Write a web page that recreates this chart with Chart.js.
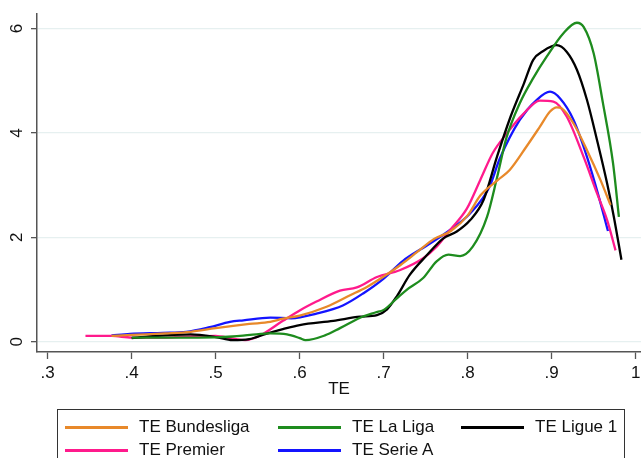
<!DOCTYPE html>
<html>
<head>
<meta charset="utf-8">
<script src="https://cdn.jsdelivr.net/npm/chart.js@4"></script>
<style>
  html, body { margin: 0; padding: 0; background: #fff; }
  #wrap { position: relative; width: 641px; height: 458px; overflow: hidden; }
  #legend {
    position: absolute; left: 57px; top: 409px; width: 568px; height: 60px;
    border: 1px solid #333; box-sizing: border-box;
    font-family: Arial, "Liberation Sans", sans-serif; font-size: 17px; color: #111;
  }
  .item { position: absolute; display: flex; align-items: center; height: 22px; }
  .swatch { width: 63px; height: 3px; margin-right: 11px; }
</style>
</head>
<body>
<div id="wrap">
  <canvas id="chart" width="641" height="458"></canvas>
  <div id="legend"></div>
</div>
<script>
// kernel density estimates of TE by league
const seriesNames = ['TE Bundesliga', 'TE La Liga', 'TE Ligue 1', 'TE Premier', 'TE Serie A'];
const seriesColors = ['#e8892a', '#1e8c1e', '#000000', '#ff1a8c', '#1414ff'];

const bundesligaX = [0.376, 0.40, 0.44, 0.47, 0.50, 0.54, 0.565, 0.58, 0.60, 0.632, 0.66, 0.68, 0.70, 0.72, 0.74, 0.76, 0.78, 0.80, 0.815, 0.836, 0.85, 0.87, 0.886, 0.898, 0.906, 0.912, 0.926, 0.942, 0.958, 0.970];
const bundesligaY = [0.11, 0.13, 0.16, 0.19, 0.26, 0.34, 0.38, 0.44, 0.50, 0.67, 0.89, 1.05, 1.25, 1.47, 1.72, 1.97, 2.12, 2.42, 2.80, 3.10, 3.29, 3.74, 4.12, 4.41, 4.49, 4.47, 4.18, 3.67, 3.10, 2.62];

const laLigaX = [0.40, 0.45, 0.50, 0.52, 0.541, 0.565, 0.585, 0.60, 0.607, 0.63, 0.648, 0.672, 0.69, 0.70, 0.715, 0.727, 0.747, 0.763, 0.777, 0.791, 0.806, 0.823, 0.835, 0.846, 0.862, 0.878, 0.894, 0.914, 0.930, 0.938, 0.95, 0.961, 0.973, 0.980];
const laLigaY = [0.08, 0.08, 0.085, 0.10, 0.13, 0.16, 0.14, 0.07, 0.03, 0.12, 0.26, 0.46, 0.56, 0.61, 0.82, 0.99, 1.22, 1.54, 1.67, 1.64, 1.82, 2.39, 3.15, 3.90, 4.57, 5.05, 5.46, 5.91, 6.11, 6.03, 5.52, 4.57, 3.42, 2.39];

const ligue1X = [0.40, 0.42, 0.45, 0.47, 0.50, 0.52, 0.54, 0.56, 0.58, 0.60, 0.64, 0.672, 0.692, 0.704, 0.716, 0.731, 0.751, 0.771, 0.787, 0.803, 0.819, 0.835, 0.851, 0.867, 0.878, 0.890, 0.906, 0.918, 0.930, 0.942, 0.954, 0.966, 0.974, 0.983];
const ligue1Y = [0.07, 0.10, 0.13, 0.14, 0.09, 0.03, 0.05, 0.15, 0.24, 0.32, 0.40, 0.48, 0.51, 0.62, 0.88, 1.28, 1.65, 1.98, 2.11, 2.33, 2.72, 3.55, 4.31, 4.95, 5.40, 5.57, 5.68, 5.55, 5.21, 4.63, 3.86, 3.03, 2.39, 1.57];

const premierX = [0.345, 0.376, 0.40, 0.44, 0.47, 0.50, 0.52, 0.535, 0.553, 0.58, 0.60, 0.62, 0.648, 0.668, 0.692, 0.719, 0.747, 0.763, 0.779, 0.799, 0.815, 0.83, 0.846, 0.866, 0.886, 0.902, 0.918, 0.938, 0.954, 0.966, 0.976];
const premierY = [0.11, 0.11, 0.08, 0.08, 0.10, 0.11, 0.06, 0.03, 0.12, 0.40, 0.60, 0.77, 0.98, 1.04, 1.24, 1.37, 1.60, 1.82, 2.14, 2.55, 3.10, 3.62, 3.98, 4.36, 4.62, 4.60, 4.31, 3.54, 2.84, 2.33, 1.75];

const serieAX = [0.376, 0.398, 0.437, 0.465, 0.493, 0.517, 0.533, 0.565, 0.59, 0.62, 0.652, 0.676, 0.70, 0.723, 0.751, 0.779, 0.803, 0.826, 0.838, 0.862, 0.882, 0.898, 0.910, 0.926, 0.942, 0.956, 0.967];
const serieAY = [0.12, 0.15, 0.17, 0.19, 0.28, 0.38, 0.41, 0.46, 0.45, 0.54, 0.70, 0.93, 1.21, 1.55, 1.84, 2.14, 2.46, 2.97, 3.50, 4.25, 4.63, 4.79, 4.66, 4.25, 3.54, 2.78, 2.12];

const xTicks = [0.3, 0.4, 0.5, 0.6, 0.7, 0.8, 0.9, 1];
const yTicks = [0, 2, 4, 6];

const seriesX = [bundesligaX, laLigaX, ligue1X, premierX, serieAX];
const seriesY = [bundesligaY, laLigaY, ligue1Y, premierY, serieAY];

const font = "Arial, 'Liberation Sans', sans-serif";

const datasets = seriesNames.map((name, i) => ({
    label: name,
    data: seriesX[i].map((x, j) => ({x: x, y: seriesY[i][j]})),
    borderColor: seriesColors[i],
    borderWidth: 2.3,
    pointRadius: 0,
    fill: false,
    cubicInterpolationMode: 'monotone'
}));

// y tick labels are rotated in the original, draw them ourselves
const rotatedYLabels = {
    id: 'rotatedYLabels',
    afterDraw(chart) {
        const scale = chart.scales.y;
        const ctx = chart.ctx;
        ctx.save();
        ctx.font = '17px ' + font;
        ctx.fillStyle = '#111';
        ctx.textAlign = 'center';
        ctx.textBaseline = 'middle';
        yTicks.forEach(v => {
            const py = scale.getPixelForValue(v);
            ctx.save();
            ctx.translate(17, py);
            ctx.rotate(-Math.PI / 2);
            ctx.fillText(String(v), 0, 0);
            ctx.restore();
        });
        ctx.restore();
    }
};

new Chart(document.getElementById('chart'), {
    type: 'line',
    data: {datasets: datasets},
    options: {
        responsive: false,
        animation: false,
        layout: {padding: {top: 14, right: 0, bottom: 58, left: 0}},
        plugins: {
            legend: {display: false},
            tooltip: {enabled: false}
        },
        scales: {
            x: {
                type: 'linear',
                min: 0.2873,
                max: 1.0063,
                afterBuildTicks: s => { s.ticks = xTicks.map(v => ({value: v})); },
                afterFit: s => { s.height = 48; s.paddingLeft = 0; s.paddingRight = 0; },
                ticks: {
                    autoSkip: false,
                    maxRotation: 0,
                    padding: 4,
                    color: '#111',
                    font: {family: font, size: 17},
                    callback: v => v === 1 ? '1' : String(v).replace('0.', '.')
                },
                grid: {drawOnChartArea: false, tickLength: 7, tickColor: '#555', tickWidth: 1.3},
                border: {color: '#555', width: 1.5},
                title: {
                    display: true,
                    text: 'TE',
                    color: '#111',
                    padding: {top: 0, bottom: 0},
                    font: {family: font, size: 17}
                }
            },
            y: {
                min: -0.197,
                max: 6.278,
                afterBuildTicks: s => { s.ticks = yTicks.map(v => ({value: v})); },
                afterFit: s => { s.width = 37; s.paddingTop = 0; s.paddingBottom = 0; },
                ticks: {display: false},
                grid: {color: '#e6f0f0', lineWidth: 1.3, tickLength: 6, tickColor: '#555', tickWidth: 1.3},
                border: {color: '#555', width: 1.5}
            }
        }
    },
    plugins: [rotatedYLabels]
});

// legend box, three columns like the original
const legendPos = [[7, 6], [220, 6], [403, 6], [7, 29], [220, 29]];
const legendEl = document.getElementById('legend');
seriesNames.forEach((name, i) => {
    const item = document.createElement('div');
    item.className = 'item';
    item.style.left = legendPos[i][0] + 'px';
    item.style.top = legendPos[i][1] + 'px';
    item.innerHTML = '<span class="swatch" style="background:' + seriesColors[i] + '"></span><span>' + name + '</span>';
    legendEl.appendChild(item);
});
</script>
</body>
</html>
